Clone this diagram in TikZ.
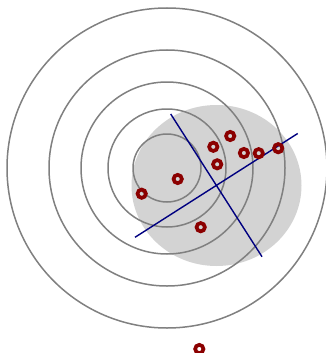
\documentclass[tikz,border=0pt]{standalone}
\usepackage{tikz}
\usetikzlibrary{positioning}
\usepackage{xcolor}
\definecolor{shadegray}{RGB}{211,211,211}
\definecolor{ringgray}{RGB}{128,128,128}
\definecolor{pointred}{RGB}{139,0,0}
\definecolor{axisblue}{RGB}{0,0,128}

\begin{document}
\begin{tikzpicture}[x=1pt,y=-1pt,
    ring/.style={draw=ringgray,line width=1.5pt},
    axisline/.style={draw=axisblue,line width=1.4pt},
    pt/.style={circle,draw=pointred,line width=3.7pt,inner sep=0pt,minimum size=8.3pt}]
    \useasboundingbox (0,0) rectangle (326,353);

    % shaded region
    \fill[shadegray] (216.5,185.5) ellipse [x radius=85, y radius=80.5];

    % rings round the centre
    \coordinate (c) at (167,168);
    \draw[ring] (c) circle [radius=160];
    \draw[ring] (c) circle [radius=118];
    \draw[ring] (c) circle [radius=86];
    \draw[ring] (c) circle [radius=59];
    \draw[ring] (c) circle [radius=34];

    % the two axes
    \coordinate (axA) at (135,237.3);
    \coordinate (axB) at (297.7,133.5);
    \coordinate (axC) at (170.7,114);
    \coordinate (axD) at (262,256.7);
    \draw[axisline] (axA) -- (axB);
    \draw[axisline] (axC) -- (axD);

    % samples
    \node[pt] (s1) at (141.7,193.7) {};
    \node[pt] (s2) at (177.7,179) {};
    \node[pt] (s3) at (213.3,146.8) {};
    \node[pt] (s4) at (230.2,136) {};
    \node[pt] (s5) at (217.2,164.3) {};
    \node[pt] (s6) at (243.9,153) {};
    \node[pt] (s7) at (258.7,153.2) {};
    \node[pt] (s8) at (278.2,148.2) {};
    \node[pt] (s9) at (200.7,227.2) {};
    \node[pt] (s10) at (199.3,349) {};
\end{tikzpicture}
\end{document}
